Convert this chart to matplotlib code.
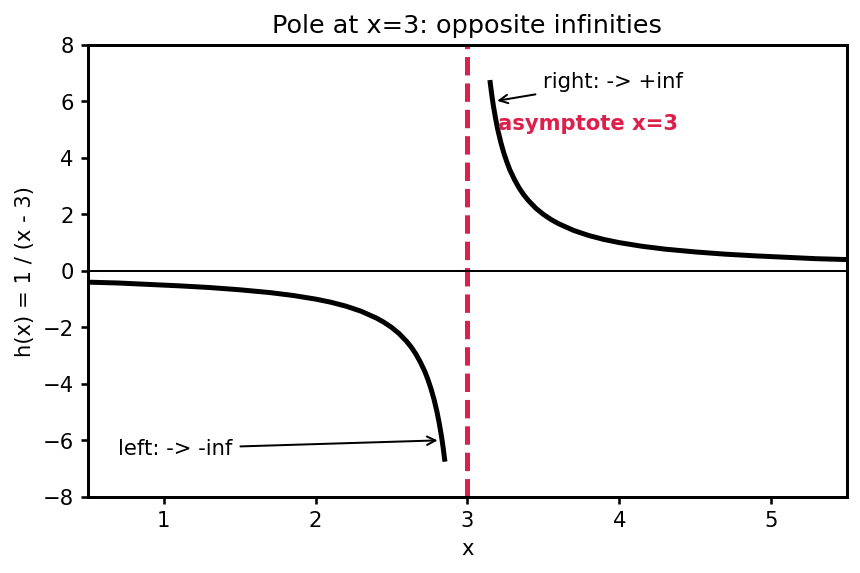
import matplotlib.pyplot as plt

# points (left and right of the pole)
x_left = [0.5, 0.7, 0.9, 1.1, 1.3, 1.5, 1.7, 1.85, 2.0, 2.1, 2.2, 2.3, 2.4, 2.45, 2.5, 2.55, 2.6,
          2.63, 2.66, 2.69, 2.72, 2.74, 2.76, 2.78, 2.8, 2.815, 2.83, 2.84, 2.85]
y_left = [-0.40, -0.43, -0.48, -0.53, -0.59, -0.67, -0.77, -0.87, -1.00, -1.11, -1.25, -1.43,
          -1.67, -1.82, -2.00, -2.22, -2.50, -2.70, -2.94, -3.23, -3.57, -3.85, -4.17, -4.55,
          -5.00, -5.41, -5.88, -6.25, -6.67]
x_right = [3.15, 3.16, 3.17, 3.185, 3.2, 3.22, 3.24, 3.26, 3.28, 3.31, 3.34, 3.37, 3.4, 3.45, 3.5,
           3.55, 3.6, 3.7, 3.8, 3.9, 4.0, 4.15, 4.3, 4.5, 4.7, 4.9, 5.1, 5.3, 5.5]
y_right = [6.67, 6.25, 5.88, 5.41, 5.00, 4.55, 4.17, 3.85, 3.57, 3.23, 2.94, 2.70, 2.50, 2.22,
           2.00, 1.82, 1.67, 1.43, 1.25, 1.11, 1.00, 0.87, 0.77, 0.67, 0.59, 0.53, 0.48, 0.43, 0.40]

pole = 3
asym_color = '#dc1f4b'

plt.rcParams['font.size'] = 10.6
plt.rcParams['axes.linewidth'] = 1.5
plt.rcParams['xtick.major.width'] = 1.3
plt.rcParams['ytick.major.width'] = 1.3

fig, ax = plt.subplots(figsize=(6, 4), dpi=860 / 6)
ax.plot(x_left, y_left, color='black', lw=2.5)
ax.plot(x_right, y_right, color='black', lw=2.5)
ax.axvline(pole, color=asym_color, ls='--', lw=2.5)
ax.axhline(0, color='black', lw=1)

ax.annotate('right: -> +inf', xy=(3.17, 6.0), xytext=(3.5, 6.5),
            arrowprops=dict(arrowstyle='->', color='black'))
ax.annotate('left: -> -inf', xy=(2.83, -6.0), xytext=(0.7, -6.5),
            arrowprops=dict(arrowstyle='->', color='black'))
ax.text(3.2, 5.0, 'asymptote x=3', color=asym_color, fontweight='bold')

ax.set_xlim(0.5, 5.5)
ax.set_ylim(-8, 8)
ax.set_xlabel('x')
ax.set_ylabel('h(x) = 1 / (x - 3)')
ax.set_title('Pole at x=3: opposite infinities', fontsize=12.8)

fig.subplots_adjust(left=0.102, right=0.985, top=0.921, bottom=0.133)
fig.savefig('out.png')
